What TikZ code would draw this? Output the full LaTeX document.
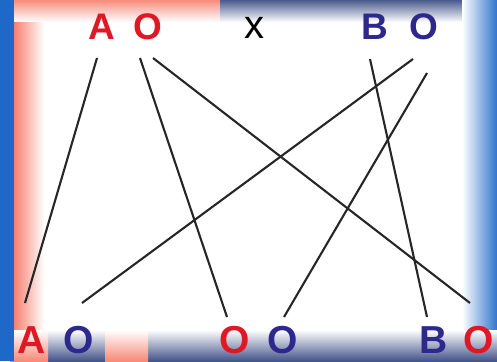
\documentclass[tikz,border=0pt]{standalone}
\usepackage{fontspec}
\setmainfont{Liberation Sans}
\definecolor{txtred}{RGB}{222,24,36}
\definecolor{txtblue}{RGB}{44,40,140}
\definecolor{frblue}{RGB}{30,105,200}
\definecolor{frnavy}{RGB}{25,45,110}
\definecolor{frred}{RGB}{245,110,90}
\begin{document}
\begin{tikzpicture}[x=1pt,y=-1pt,
  toplbl/.style={font=\fontsize{37}{40}\selectfont\bfseries, inner sep=0pt, anchor=base},
  botlbl/.style={font=\fontsize{39}{42}\selectfont\bfseries, inner sep=0pt, anchor=base},
  redtxt/.style={text=txtred},
  bluetxt/.style={text=txtblue},
  cross/.style={draw=black!85, line width=2.1pt}]
% background frame
\useasboundingbox (0,0) rectangle (497,361);
\fill[frblue] (0,0) rectangle (497,361);
\fill[white] (30,12) rectangle (478,342);
\shade[left color=frred, right color=white] (10,6) rectangle (44,361);
\fill[frblue] (0,0) rectangle (14,361);
\shade[top color=frred, bottom color=white] (14,-6) rectangle (220,22);
\shade[top color=frnavy, bottom color=white] (220,-6) rectangle (478,22);
\shade[left color=white, right color=frblue] (462,0) rectangle (500,361);
\shade[top color=white, bottom color=frnavy] (44,330) rectangle (497,368);
\shade[top color=white, bottom color=frred] (14,330) rectangle (48,368);
\shade[top color=white, bottom color=frred] (105,330) rectangle (148,368);
% top labels
\node[toplbl, redtxt] (tA) at (102,40) {A};
\node[toplbl, redtxt] (tO) at (148,40) {O};
\node[font=\fontsize{40}{44}\selectfont, inner sep=0pt, anchor=base] (times) at (254,38) {x};
\node[toplbl, bluetxt] (tB) at (375,40) {B};
\node[toplbl, bluetxt] (tBO) at (424,40) {O};
% bottom labels
\node[botlbl, redtxt] (bA) at (32,353) {A};
\node[botlbl, bluetxt] (bAO) at (79,353) {O};
\node[botlbl, redtxt] (bO1) at (235,353) {O};
\node[botlbl, bluetxt] (bO2) at (283,353) {O};
\node[botlbl, bluetxt] (bB) at (434,353) {B};
\node[botlbl, redtxt] (bBO) at (479,353) {O};
% line end points
\coordinate (a1) at (97,58);
\coordinate (o1) at (140,58);
\coordinate (o2) at (153,58);
\coordinate (b1) at (370,59);
\coordinate (q1) at (413,59);
\coordinate (q2) at (427,73);
\coordinate (ea) at (25,303);
\coordinate (eao) at (82,303);
\coordinate (eo1) at (227,317);
\coordinate (eo2) at (284,317);
\coordinate (eb) at (427,317);
\coordinate (ebo) at (470,303);
\draw[cross] (a1) -- (ea);
\draw[cross] (o1) -- (eo1);
\draw[cross] (o2) -- (ebo);
\draw[cross] (b1) -- (eb);
\draw[cross] (q1) -- (eao);
\draw[cross] (q2) -- (eo2);
\end{tikzpicture}
\end{document}
